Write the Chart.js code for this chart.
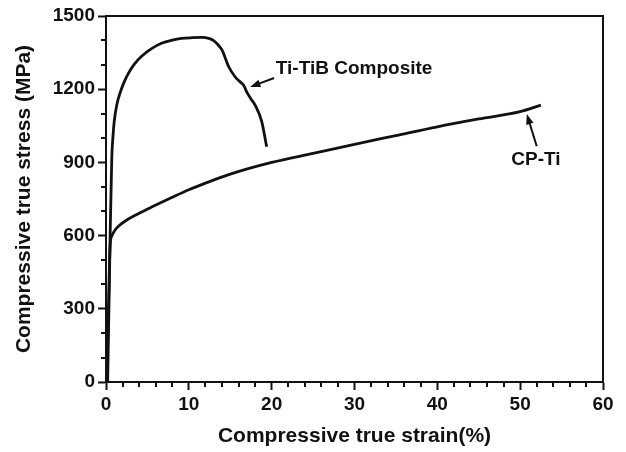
<!DOCTYPE html>
<html>
<head>
<meta charset="utf-8">
<script src="https://cdn.jsdelivr.net/npm/chart.js@4/dist/chart.umd.min.js"></script>
<style>
  html, body { margin: 0; padding: 0; background: #fff; }
  #wrap { width: 626px; height: 452px; }
</style>
</head>
<body>
<div id="wrap"><canvas id="chart" width="626" height="452"></canvas></div>
<script>
// ===== DATA =====
// strain (%) / stress (MPa)
const cpStrain = [0.1, 0.3, 0.5, 0.7, 1.0, 1.5, 2.5, 3.9, 5.7, 8, 10, 12, 15, 20, 25, 30, 35, 40, 45, 50, 52.5];
const cpStress = [0, 300, 560, 598, 618, 638, 664, 690, 720, 757, 788, 815, 852, 900, 937, 974, 1010, 1046, 1078, 1108, 1135];

const tibStrain = [0.2, 0.5, 0.7, 0.85, 1.0, 1.3, 1.7, 2.2, 2.7, 3.4, 4.3, 5.5, 6.7, 8.0, 9.1, 10.4, 11.6, 12.4, 13.0, 13.5, 14.0, 14.8, 15.6, 16.2, 16.6, 17.0, 17.5, 18.0, 18.8, 19.4];
const tibStress = [0, 600, 920, 1010, 1070, 1135, 1185, 1230, 1265, 1302, 1335, 1366, 1388, 1401, 1408, 1411, 1412, 1408, 1399, 1383, 1361, 1293, 1250, 1230, 1217, 1188, 1160, 1135, 1067, 964];

const xTicks = [0, 10, 20, 30, 40, 50, 60];
const yTicks = [0, 300, 600, 900, 1200, 1500];

// annotation labels, in data units
const labels   = ["Ti-TiB Composite", "CP-Ti"];
const labelPos = [[20.5, 1283], [51.9, 910]];
const labelAlign = ["left", "center"];
const arrowFrom = [[20.3, 1246], [52.0, 966]];
const arrowTo   = [[17.4, 1209], [50.8, 1098]];

const FONT = "'Liberation Sans', Arial, sans-serif";

function toPoints(xs, ys) {
  return xs.map((x, i) => ({ x, y: ys[i] }));
}

// ===== PLUGIN: frame, minor ticks, annotations =====
const extras = {
  id: "extras",
  afterDraw(chart) {
    const { ctx, chartArea: a, scales: { x, y } } = chart;
    ctx.save();
    ctx.strokeStyle = "#111";

    // top + right frame
    ctx.lineWidth = 2;
    ctx.beginPath();
    ctx.moveTo(a.left, a.top);
    ctx.lineTo(a.right, a.top);
    ctx.lineTo(a.right, a.bottom);
    ctx.stroke();

    // minor ticks
    ctx.lineWidth = 2;
    ctx.beginPath();
    for (let v = 2; v < 60; v += 2) {
      if (v % 10 === 0) continue;
      const px = Math.round(x.getPixelForValue(v));
      ctx.moveTo(px, a.bottom);
      ctx.lineTo(px, a.bottom + 5);
    }
    for (let v = 100; v < 1500; v += 100) {
      if (v % 300 === 0) continue;
      const py = Math.round(y.getPixelForValue(v));
      ctx.moveTo(a.left, py);
      ctx.lineTo(a.left - 5, py);
    }
    ctx.stroke();

    // labels + arrows
    ctx.fillStyle = "#111";
    ctx.font = "bold 19px " + FONT;
    ctx.textBaseline = "middle";
    labels.forEach((txt, i) => {
      ctx.textAlign = labelAlign[i];
      ctx.fillText(txt, x.getPixelForValue(labelPos[i][0]), y.getPixelForValue(labelPos[i][1]));

      const x1 = x.getPixelForValue(arrowFrom[i][0]), y1 = y.getPixelForValue(arrowFrom[i][1]);
      const x2 = x.getPixelForValue(arrowTo[i][0]),   y2 = y.getPixelForValue(arrowTo[i][1]);
      const ang = Math.atan2(y2 - y1, x2 - x1);
      const head = 11;
      ctx.lineWidth = 2;
      ctx.beginPath();
      ctx.moveTo(x1, y1);
      ctx.lineTo(x2 - Math.cos(ang) * head * 0.8, y2 - Math.sin(ang) * head * 0.8);
      ctx.stroke();
      ctx.beginPath();
      ctx.moveTo(x2, y2);
      ctx.lineTo(x2 - head * Math.cos(ang - 0.35), y2 - head * Math.sin(ang - 0.35));
      ctx.lineTo(x2 - head * Math.cos(ang + 0.35), y2 - head * Math.sin(ang + 0.35));
      ctx.closePath();
      ctx.fill();
    });
    ctx.restore();
  }
};

// ===== CHART =====
const lineStyle = {
  borderColor: "#111",
  borderWidth: 2.8,
  pointRadius: 0,
  showLine: true,
  fill: false,
  cubicInterpolationMode: "monotone"
};

new Chart(document.getElementById("chart"), {
  type: "scatter",
  data: {
    datasets: [
      { label: "CP-Ti", data: toPoints(cpStrain, cpStress), ...lineStyle },
      { label: "Ti-TiB Composite", data: toPoints(tibStrain, tibStress), ...lineStyle }
    ]
  },
  options: {
    responsive: false,
    animation: false,
    layout: { padding: { top: 16, right: 23, bottom: 0, left: 0 } },
    plugins: { legend: { display: false }, tooltip: { enabled: false } },
    scales: {
      x: {
        type: "linear",
        min: 0, max: 60,
        afterBuildTicks: s => { s.ticks = xTicks.map(v => ({ value: v })); },
        afterFit: s => { s.height = 70; },
        border: { display: true, color: "#111", width: 2 },
        grid: { drawOnChartArea: false, drawTicks: true, tickLength: 8, tickColor: "#111", tickWidth: 2 },
        ticks: { color: "#111", padding: 3, maxRotation: 0, callback: v => String(v), font: { family: FONT, size: 19, weight: "bold" } },
        title: {
          display: true, text: "Compressive true strain(%)", color: "#111",
          padding: { top: 0, bottom: 3 },
          font: { family: FONT, size: 21, weight: "bold" }
        }
      },
      y: {
        type: "linear",
        min: 0, max: 1500,
        afterBuildTicks: s => { s.ticks = yTicks.map(v => ({ value: v })); },
        afterFit: s => { s.width = 106; },
        border: { display: true, color: "#111", width: 2 },
        grid: { drawOnChartArea: false, drawTicks: true, tickLength: 8, tickColor: "#111", tickWidth: 2 },
        ticks: { color: "#111", padding: 3, callback: v => String(v), font: { family: FONT, size: 19, weight: "bold" } },
        title: {
          display: true, text: "Compressive true stress (MPa)", color: "#111",
          padding: { top: 12, bottom: 0 },
          font: { family: FONT, size: 21, weight: "bold" }
        }
      }
    }
  },
  plugins: [extras]
});
</script>
</body>
</html>
